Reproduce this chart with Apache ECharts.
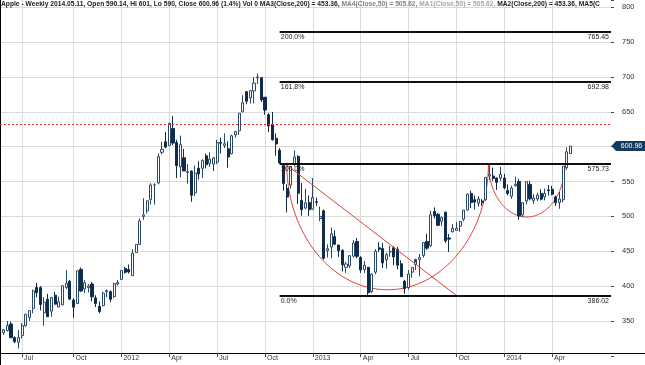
<!DOCTYPE html>
<html><head><meta charset="utf-8">
<script src="https://cdn.jsdelivr.net/npm/echarts@6/dist/echarts.min.js"></script>
<style>html,body{margin:0;padding:0;background:#fff}#c{width:645px;height:365px}</style>
</head><body><div id="c"></div>
<script>
// ---- categories: weekly slots (slot 0 and trailing slots are empty) ----
const firstWeek = '2011-05-20';
const weekSlots = 167;
const firstDataSlot = 1;

// ---- weekly OHLC, 2011-05-27 .. 2014-05-09 ----
const opens = [333.4,336.3,345.7,325.9,319.5,329,343,355,368,398,397.8,361.7,381,364,387,370,373,398,407,380,375,424,396,398,403,383,371,372,392,392,385,403,
409.5,425,424,415,448,460,500,508,524,545,548,592,607,601.8,626,606,571,584,563,565,534,569,569,587,576,575,578,606,602,597,590,617,623,650,679,670,680,699,699,671,646,632,612,595,573,540,545,575,586,523,512,520,
510.5,521,497,508,451,456,471,459,451,427,429,443,464,441,424,427,392,420,455,454,438,449,455,453,432,407,398,420,431,438,444,464,458,507,503,493,506,469,478,480,486,496,509,533,524,519,522,524,558,558,555,555,
555,537,529,544,550,502,522,546,523,525,533,528,538,539,528,520,524,570,590.14];
const highs = [338.6,350,349,328,337,347,360,365,395,404.5,400,384,389,384,392,385,401,422.9,409,382.5,422,426.7,409,403,406,387,378,392,395,394,405,409,
422.7,427.7,431,453,459.8,497,526,522.5,547.6,547.5,590,607,621,633.9,644,610,616,596.8,575,566,573,579,582,590,592,585,610,613,619,608,617,623,648,674,680,681,699.8,705,700,671,648,650,619,598,574,546,571.5,594.6,588,548,539.5,530,
555,527,514,510,460,484,480,459,453,435,444,466,469,443,436,427,418,453,463,462,448,458,457,456,437,409,423,427,434,446,463,475,508,513,505,500,507,475,489,492,493,509,533,537,530,529,525,556,575,570,556,571,
561,546,544,557,554,519,550,551,532,534,539,540,545,544,530,535,572,599,601];
const lows = [330,335,325.6,318.3,310.5,325,342,350,361,384,365,343,356,356,374,370,373,396,380,354.2,375,392,390,391,378,370,361,371,384,377,383,401,
409,418,418,415,448,459,495,504,517,517,546,589,598,601,602,555,556,565,547,521,529,553,555,569,571,565,575,590,598,570,589,613,617,650,661,662,662,690,664,646,621,609,587,576,537,505.75,540,572,518,501,510,500.5,
509,515,493,438,441,440,459,442,421,419,426,441,440,419,419,385.1,390,417,449,426,425,442,430,424,413,389,395,412,423,414,441,452,456,497,486,486,462,449,477,480,478,493,509,512,510,514,515,522,552,551,538,551,
539,530,525,543,495,499,517,523,518,522,523,523,530,530,515,511,520,567,590];
const closes = [337.41,343.44,325.9,320.26,326.35,343.26,359.71,364.92,393.3,390.48,373.62,376.99,356.03,383.58,374.05,377.48,400.5,403.86,381.32,369.8,422,392.87,404.95,400.24,384.62,374.94,363.57,389.7,393.62,381.02,403.43,405,
422.4,419.81,420.3,447.28,459.68,493.42,502.12,522.41,545.18,545.17,585.57,596.05,599.55,633.68,605.23,572.98,603,565.25,564.16,530.38,562.29,560.99,580.32,574.13,582.1,584,605.88,604.97,604.3,585.16,615.7,621.7,648.11,663.22,665.24,680.44,691.28,700.1,667.1,652.59,629.71,609.84,604,576.8,547.06,527.68,571.5,585.28,533.25,509.79,519.33,509.59,
527,520.3,500,439.88,453.62,474.98,460.16,450.81,430.47,431.72,443.66,461.91,442.66,423.2,429.8,390.53,417.2,449.98,452.97,433.26,445.15,449.73,441.81,430.05,413.5,396.53,417.42,426.51,438.5,440.99,462.54,454.45,502.33,501.02,487.22,498.22,464.9,467.41,482.75,483.03,492.81,508.89,531.91,520.03,520.56,524.99,519.8,556.07,560.02,554.43,549.02,560.09,
540.98,532.94,540.67,546.07,500.6,519.68,549.99,525.25,526.24,530.44,524.69,532.87,536.86,531.82,519.61,524.94,571.94,592.58,600.96];

// ---- axis tick labels ----
const tickDates = ['2011-07-01','2011-10-07','2012-01-06','2012-04-06','2012-07-06','2012-10-05','2013-01-04','2013-04-05','2013-07-05','2013-10-04','2014-01-03','2014-04-04'];
const tickLabels = ['Jul','Oct','2012','Apr','Jul','Oct','2013','Apr','Jul','Oct','2014','Apr'];
const priceTicks = [350,400,450,500,550,600,650,700,750,800];

// ---- annotations ----
const fibLevels = [386.02, 575.73, 692.98, 765.45];
const fibNames = ['0.0%', '100.0%', '161.8%', '200.0%'];
const fibStartWeek = '2012-11-02';
const alertLevel = 632;
const diagLine = [[77.9, 573.7], [124.1, 386.02]];      // [week slot, price]
const cupArcs = [[105.3, 575.73, 27.4, 181], [143.1, 575.73, 10.4, 76.6]]; // [centre slot, rim price, half-width slots, depth]

const titleParts = [
  ['a', 'Apple - Weekly 2014.05.11, Open 590.14, Hi 601, Lo 590, Close 600.96 (1.4%) Vol 0 MA3(Close,200) = 453.36,'],
  ['b', 'MA4(Close,50) = 505.62,'],
  ['c', 'MA1(Close,50) = 505.62,'],
  ['a', 'MA2(Close,200) = 453.36, MA5(C']
];

// ---- build ----
const weeks = [];
{
  const t0 = Date.parse(firstWeek + 'T00:00:00Z');
  for (let i = 0; i < weekSlots; i++) weeks.push(new Date(t0 + i * 7 * 86400000).toISOString().slice(0, 10));
}
const candleData = weeks.map((w, i) => {
  const k = i - firstDataSlot;
  return (k >= 0 && k < closes.length) ? [opens[k], closes[k], lows[k], highs[k]] : '-';
});
const lastClose = closes[closes.length - 1];
const isTick = (idx, val) => tickDates.indexOf(val) >= 0;
const tickText = (val) => { const j = tickDates.indexOf(val); return j >= 0 ? tickLabels[j] : ''; };

const FONT = 'Liberation Sans';
const fibLine = { color: '#000', width: 1.5, type: 'solid' };
const fibMarks = [];
fibLevels.forEach((lv, j) => {
  fibMarks.push([
    { coord: [fibStartWeek, lv], lineStyle: fibLine,
      label: { show: true, position: 'insideStartBottom', formatter: fibNames[j], distance: [1, 2], fontSize: 7, color: '#222', fontFamily: FONT } },
    { coord: [weeks[weeks.length - 1], lv] }
  ]);
  fibMarks.push([
    { coord: [fibStartWeek, lv], lineStyle: fibLine,
      label: { show: true, position: 'insideEndBottom', formatter: lv.toFixed(2), distance: [2, 2], fontSize: 7, color: '#222', fontFamily: FONT } },
    { coord: [weeks[weeks.length - 1], lv] }
  ]);
});
fibMarks.push({ yAxis: alertLevel, lineStyle: { color: '#e0301e', width: 1, type: [2, 2] }, label: { show: false } });

const rich = { a: { color: '#222', fontSize: 6.7, fontFamily: FONT }, b: { color: '#7b8189', fontSize: 6.7, fontFamily: FONT }, c: { color: '#a3a7ad', fontSize: 6.7, fontFamily: FONT } };

const option = {
  animation: false,
  backgroundColor: '#fff',
  textStyle: { fontFamily: FONT },
  title: { left: 1, top: 1, padding: 0, text: titleParts.map(p => '{' + p[0] + '|' + p[1] + '}').join(' '), textStyle: { rich: rich, fontSize: 6.7 } },
  grid: [
    { left: 0, right: 34, top: 0, bottom: 9.2 },
    { left: 0, right: 34, top: 0, bottom: 9.2 },
    { left: 0, right: 0, top: 0, bottom: 12 },
    { left: 0, right: 34, top: 0, bottom: 0 }
  ],
  xAxis: [
    { gridIndex: 0, type: 'category', data: weeks, boundaryGap: false, offset: -2.8,
      axisLine: { show: false },
      axisTick: { show: true, interval: isTick, length: 4, lineStyle: { color: '#444' } },
      axisLabel: { interval: isTick, formatter: tickText, align: 'left', margin: 2, padding: [0, 0, 0, 2], fontSize: 7, color: '#333' },
      splitLine: { show: true, interval: isTick, lineStyle: { color: '#dadada', width: 1 } } },
    { gridIndex: 1, type: 'value', min: 0, max: weekSlots - 1, show: false },
    { gridIndex: 2, type: 'value', min: 0, max: 1, axisLine: { show: true, lineStyle: { color: '#000', width: 1 } }, axisTick: { show: false }, axisLabel: { show: false }, splitLine: { show: false } },
    { gridIndex: 3, type: 'value', min: 0, max: 1, show: false }
  ],
  yAxis: [
    { gridIndex: 0, type: 'value', position: 'right', min: 300, max: 810.5, interval: 50,
      axisLine: { show: false },
      axisTick: { show: true, length: 3, lineStyle: { color: '#444' } },
      axisLabel: { formatter: v => priceTicks.indexOf(v) >= 0 ? String(v) : '', margin: 11, fontSize: 7.5, color: '#333' },
      splitLine: { show: true, showMinLine: false, showMaxLine: false, lineStyle: { color: '#dadada', width: 1 } } },
    { gridIndex: 1, type: 'value', min: 300, max: 810.5, show: false },
    { gridIndex: 2, type: 'value', min: 0, max: 1, show: false },
    { gridIndex: 3, type: 'value', position: 'right', min: 0, max: 1, axisLine: { show: true, lineStyle: { color: '#000', width: 1 } }, axisTick: { show: false }, axisLabel: { show: false }, splitLine: { show: false } }
  ],
  series: [
    { type: 'candlestick', name: 'Apple', xAxisIndex: 0, yAxisIndex: 0, data: candleData, barWidth: 2.6, clip: false,
      itemStyle: { color: '#ffffff', color0: '#0f2c4c', borderColor: '#2a4868', borderColor0: '#0f2c4c', borderWidth: 1 },
      markLine: { silent: true, symbol: ['none', 'none'], animation: false, data: fibMarks },
      markPoint: { silent: true, animation: false,
        data: [{ coord: [weeks[weeks.length - 1], lastClose], value: lastClose }],
        symbol: 'path://M0,5 L5,0 L40,0 L40,10 L5,10 Z', symbolSize: [36, 10], symbolOffset: [18.5, 0],
        itemStyle: { color: '#173a60' },
        label: { show: true, position: 'inside', offset: [2, 0], formatter: lastClose.toFixed(2), color: '#fff', fontSize: 7, fontFamily: FONT } } },
    { type: 'line', name: 'trend', xAxisIndex: 1, yAxisIndex: 1, data: diagLine, showSymbol: false, symbol: 'none',
      lineStyle: { color: '#e0403a', width: 1 } },
    { type: 'custom', name: 'cups', xAxisIndex: 1, yAxisIndex: 1, data: cupArcs, silent: true,
      renderItem: function (params, api) {
        const cx = api.value(0), cy = api.value(1), rx = api.value(2), ry = api.value(3);
        const pts = [];
        for (let k = 0; k <= 80; k++) {
          const t = Math.PI * k / 80;
          pts.push(api.coord([cx - rx * Math.cos(t), cy - ry * Math.sin(t)]));
        }
        return { type: 'polyline', shape: { points: pts }, style: { stroke: '#e0403a', fill: 'none', lineWidth: 1 } };
      } }
  ]
};
echarts.init(document.getElementById('c')).setOption(option);
</script></body></html>
